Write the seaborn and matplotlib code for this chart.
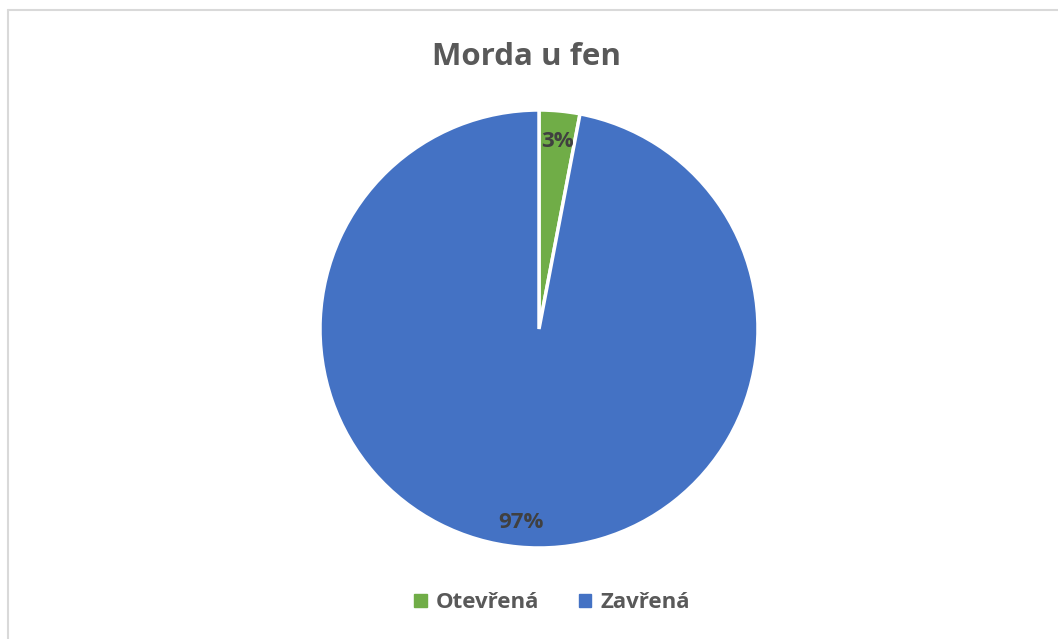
import matplotlib
matplotlib.use("Agg")
import matplotlib.pyplot as plt
import matplotlib.patches as mpatches
from matplotlib.lines import Line2D
import seaborn as sns

categories = ["Otevřená", "Zavřená"]
values = [3, 97]
colors = ["#70AD47", "#4472C4"]

sns.set_theme(style="white")
plt.rcParams["font.family"] = ["Open Sans", "DejaVu Sans"]

W, H = 1058, 639
fig = plt.figure(figsize=(W / 100, H / 100), dpi=100)

# pie centre ~ (539, 329) px, radius ~219 px
cx, cy, r = 539, 329, 219
ax = fig.add_axes([(cx - r) / W, (H - cy - r) / H, 2 * r / W, 2 * r / H])

wedges, texts, autotexts = ax.pie(
    values,
    colors=colors,
    startangle=90,
    counterclock=False,
    autopct=lambda p: f"{p:.0f}%",
    pctdistance=0.875,
    wedgeprops=dict(edgecolor="white", linewidth=2.5),
    textprops=dict(color="#404040", fontsize=16, fontweight="bold"),
)
# nudge labels down a few pixels to sit like the original
for t in autotexts:
    x, y = t.get_position()
    t.set_position((x, y - 0.014))
ax.set_xlim(-1, 1)
ax.set_ylim(-1, 1)
ax.set_aspect("equal")
ax.axis("off")

fig.text(526 / W, 1 - 57 / H, "Morda u fen", ha="center", va="center",
         fontsize=22.5, fontweight="bold", color="#595959")

handles = [mpatches.Patch(color=c, label=l) for c, l in zip(colors, categories)]
leg = fig.legend(handles=handles, loc="center", bbox_to_anchor=(552 / W, 1 - 603 / H),
                 ncol=2, frameon=False, handlelength=0.55, handleheight=0.55,
                 handletextpad=0.4, columnspacing=1.8,
                 prop=dict(size=16, weight="bold"))
for t in leg.get_texts():
    t.set_color("#595959")

# chart border (left and top edges visible)
fig.add_artist(Line2D([8 / W, 8 / W], [0, 1 - 10 / H], color="#D9D9D9", lw=1.5))
fig.add_artist(Line2D([8 / W, 1], [1 - 10 / H, 1 - 10 / H], color="#D9D9D9", lw=1.5))

fig.savefig("out.png", dpi=100, facecolor="white")
